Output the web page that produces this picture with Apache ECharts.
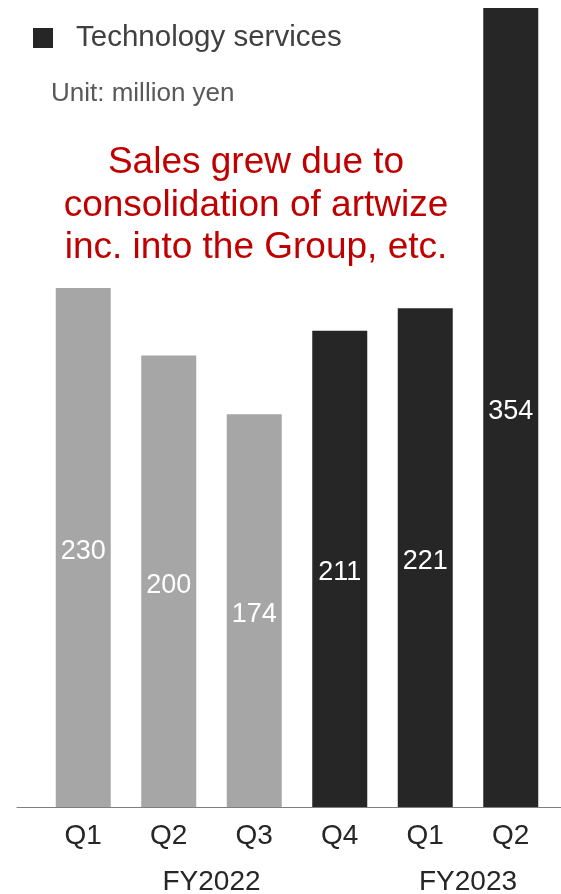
<!DOCTYPE html>
<html>
<head>
<meta charset="utf-8">
<script src="https://cdn.jsdelivr.net/npm/echarts@6/dist/echarts.min.js"></script>
<style>
  html, body { margin: 0; padding: 0; background: #ffffff; }
  #chart { width: 561px; height: 894px; }
</style>
</head>
<body>
<div id="chart"></div>
<script>
// Quarterly sales of the technology services segment (million yen)
const quarters = ['Q1', 'Q2', 'Q3', 'Q4', 'Q1', 'Q2'];
const sales = [230, 200, 174, 211, 221, 354];
const fiscalYears = ['FY2022', 'FY2023'];
// position of each fiscal-year label on the quarter index scale (centre of its quarters)
const fiscalYearCentres = [1.5, 4.5];
// bars of the earlier quarters are drawn in grey, later ones in the series colour
const greyCount = 3;

const FONT = '"Liberation Sans", Arial, sans-serif';
const DARK = '#262626';
const GREY = '#a6a6a6';

const chart = echarts.init(document.getElementById('chart'), null, { renderer: 'canvas' });

chart.setOption({
  animation: false,
  backgroundColor: '#ffffff',
  textStyle: { fontFamily: FONT },
  grid: [
    { left: 40.5, right: 7.5, top: 8, bottom: 87, outerBoundsMode: 'none' },
    // wide grid only used to draw the full-width baseline
    { left: 17, right: 0, top: 8, bottom: 87, outerBoundsMode: 'none' }
  ],
  legend: {
    left: 33,
    top: 23,
    padding: 0,
    itemWidth: 20,
    itemHeight: 20,
    icon: 'rect',
    data: ['Technology services'],
    textStyle: { fontSize: 29.5, color: '#404040', fontFamily: FONT, padding: [0, 0, 0, 18] }
  },
  xAxis: [
    {
      type: 'category',
      gridIndex: 0,
      data: quarters,
      axisLine: { show: false },
      axisTick: { show: false },
      axisLabel: { fontSize: 28, color: DARK, margin: 15, fontFamily: FONT }
    },
    {
      type: 'value',
      gridIndex: 0,
      position: 'bottom',
      min: -0.5,
      max: quarters.length - 0.5,
      axisLine: { show: false },
      axisTick: { show: false },
      splitLine: { show: false },
      axisLabel: {
        fontSize: 28, color: DARK, margin: 61, fontFamily: FONT,
        customValues: fiscalYearCentres,
        formatter: v => fiscalYears[fiscalYearCentres.indexOf(v)] || ''
      }
    },
    {
      type: 'value',
      gridIndex: 1,
      min: 0,
      max: 1,
      axisLine: { show: true, lineStyle: { color: '#7f7f7f', width: 1 } },
      axisTick: { show: false },
      axisLabel: { show: false },
      splitLine: { show: false }
    }
  ],
  yAxis: [
    { type: 'value', gridIndex: 0, min: 0, max: 354, show: false },
    { type: 'value', gridIndex: 1, min: 0, max: 1, show: false }
  ],
  series: [
    {
      name: 'Technology services',
      type: 'bar',
      xAxisIndex: 0,
      yAxisIndex: 0,
      barWidth: 55,
      itemStyle: { color: DARK },
      data: sales.map((v, i) => ({
        value: v,
        itemStyle: { color: i < greyCount ? GREY : DARK }
      })),
      label: {
        show: true,
        position: 'inside',
        offset: [0, 4],
        color: '#ffffff',
        fontSize: 27,
        fontFamily: FONT
      }
    }
  ],
  graphic: [
    {
      type: 'text',
      left: 51,
      top: 81,
      style: { text: 'Unit: million yen', fontSize: 26, fill: '#595959', fontFamily: FONT }
    },
    {
      type: 'text',
      x: 256,
      y: 142,
      style: {
        text: 'Sales grew due to\nconsolidation of artwize\ninc. into the Group, etc.',
        fontSize: 37,
        lineHeight: 42.5,
        align: 'center',
        fill: '#c00000',
        fontFamily: FONT
      }
    }
  ]
});
</script>
</body>
</html>
